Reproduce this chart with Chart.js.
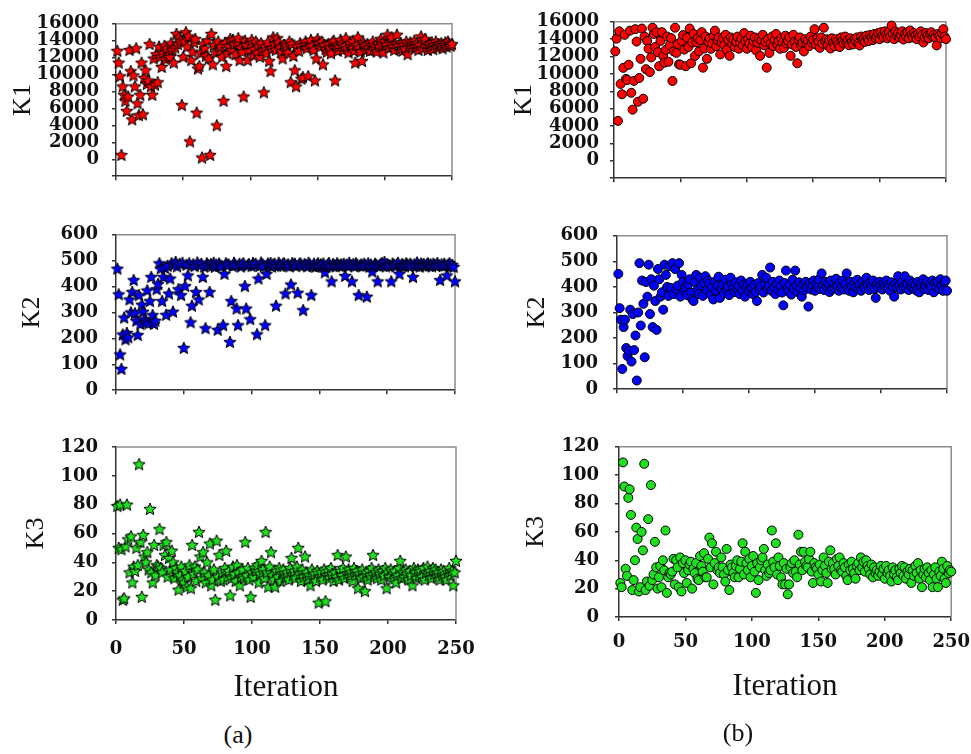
<!DOCTYPE html>
<html><head><meta charset="utf-8">
<script src="https://cdn.jsdelivr.net/npm/chart.js@4.4.1/dist/chart.umd.min.js"></script>
<style>
html,body{margin:0;padding:0;background:#fff;width:971px;height:754px;overflow:hidden;position:relative}
canvas{position:absolute}
.cap{position:absolute;font-family:"Liberation Serif",serif;font-size:26px;color:#111;width:60px;text-align:center;line-height:30px}
</style></head><body>
<canvas id="a1" width="490" height="200" style="left:0px;top:0px"></canvas>
<canvas id="a2" width="490" height="205" style="left:0px;top:210px"></canvas>
<canvas id="a3" width="490" height="300" style="left:0px;top:420px"></canvas>
<canvas id="b1" width="491" height="200" style="left:490px;top:0px"></canvas>
<canvas id="b2" width="491" height="205" style="left:490px;top:210px"></canvas>
<canvas id="b3" width="491" height="300" style="left:490px;top:420px"></canvas>
<div class="cap" style="left:208px;top:720px">(a)</div>
<div class="cap" style="left:708px;top:718px">(b)</div>
<script>
// Iteration numbers (x categories)
const iterations = Array.from({length: 250}, (_, i) => i + 1);
const xTickLabels = [0, 50, 100, 150, 200, 250];

// (a) series
const k1A = [12800,11400,9800,500,8600,7600,6900,5700,7400,12900,
10400,4700,9900,8600,13100,6600,5200,7600,11400,5300,
9600,10500,8900,9300,13600,8600,7600,11900,8800,12400,
9100,13300,12100,10900,12600,13400,11800,13100,12300,12100,
13700,12900,11400,13200,14800,13600,14400,14000,6400,12100,
13900,15000,13300,14500,2100,11700,12700,13800,14200,5500,
10700,11000,12500,200,13600,13100,12200,14000,11900,500,
14800,11200,13500,12600,4000,13900,12800,13300,12100,6900,
13700,11000,12500,13400,14200,12900,14100,13600,12400,13800,
14300,11700,13200,12700,7400,14000,13500,11700,12900,13600,
14100,12300,13000,13900,12600,13400,12100,13700,12800,7900,
13300,12500,13800,11600,10400,13100,14400,13600,12900,14300,
13800,13200,12700,11900,13500,12900,13400,12600,13900,9100,
13600,12200,10500,8600,13300,12800,13700,9500,9700,13500,
13900,13100,9800,13600,14100,13400,12900,9300,11900,14200,
13700,13300,13900,11200,13500,13000,12700,13600,13200,12500,
13800,14000,9300,13500,12800,13300,14100,13600,12900,13400,
14300,13100,12600,13700,13300,13900,12800,11400,13500,14400,
13200,12700,11600,13800,13400,12900,13600,13100,12800,13500,
13900,13000,13400,12700,13700,13300,14200,13600,12600,14000,
13500,14700,13200,13800,14400,13300,12900,13600,14700,13400,
13000,13700,12800,13500,13100,13900,12400,13400,13800,13200,
13600,14000,13300,13700,12900,13500,14500,13100,13800,14200,
13400,12900,13600,13300,13800,13000,13500,13900,13200,13600,
13400,13700,13100,13500,13800,13300,13900,13600,13400,13600];

const k2A = [469,370,138,82,215,280,196,221,204,350,
300,379,425,297,268,213,367,255,330,303,
274,262,385,258,344,437,290,256,268,390,
410,490,470,344,437,472,291,480,373,431,
490,303,485,495,478,390,488,367,492,163,
402,484,443,490,262,326,486,479,379,493,
350,482,488,437,477,239,490,484,379,487,
480,492,476,485,233,489,481,478,251,449,
490,483,486,186,344,479,492,484,315,251,
488,477,485,490,402,315,482,487,274,479,
491,484,488,216,431,480,493,486,478,251,
449,489,483,491,477,485,488,326,480,492,
484,479,487,490,373,482,486,478,408,491,
484,488,479,376,486,490,481,309,487,483,
478,492,485,367,480,488,476,484,490,479,
486,482,489,455,477,485,491,480,420,487,
483,478,490,484,479,486,481,488,441,485,
479,492,483,420,487,478,490,484,367,481,
486,479,488,483,361,490,477,485,458,480,
488,484,420,479,486,491,482,495,478,487,
483,480,420,489,484,478,486,492,449,481,
487,483,478,490,485,479,488,482,437,486,
480,493,484,477,489,483,487,479,485,490,
481,486,478,488,484,480,491,483,425,486,
479,488,482,443,485,490,478,484,476,420];

const k3A = [79,50,80,49,14,15,51,80,56,33,
58,26,37,34,50,38,108,54,16,59,
44,40,47,35,77,33,26,52,31,38,
37,63,36,33,52,45,54,30,43,35,
48,40,29,36,33,21,31,37,28,26,
34,23,30,38,22,52,32,37,27,35,
61,44,29,47,33,26,40,31,53,24,
28,35,14,55,30,45,27,33,28,36,
48,30,34,17,29,37,32,27,38,33,
24,30,35,29,54,31,36,28,16,33,
30,36,34,38,26,32,41,35,29,61,
33,23,37,47,31,28,23,34,30,36,
27,32,35,29,30,33,28,36,43,31,
34,29,37,50,32,27,35,30,44,33,
28,31,24,35,29,32,27,34,12,30,
33,28,35,13,31,34,29,36,32,27,
33,30,45,28,34,31,36,29,44,32,
35,30,33,27,36,31,34,22,32,29,
35,30,20,33,28,34,31,36,45,30,
33,29,35,32,28,34,31,36,22,33,
30,35,28,32,34,26,31,36,41,29,
33,30,35,32,28,34,31,24,36,33,
29,35,31,34,30,36,28,33,37,31,
34,29,36,32,35,30,33,28,35,31,
34,30,28,33,36,31,34,24,33,41];

// (b) series
const k1B = [12600,14060,4600,14900,8850,7660,10700,14500,9430,9300,
11060,14980,7830,5890,9200,15150,13720,6800,9530,11740,
15220,7150,14300,10550,13790,12900,10210,11910,15320,14600,
13100,14810,12500,10890,13800,14810,12080,11300,12770,14300,
11400,13300,14130,9190,12600,15320,12420,13450,11100,11060,
13800,14470,12800,10890,14200,13100,15220,11230,13600,14600,
12080,13620,14100,12600,13900,14810,10720,12930,14300,11740,
13700,14100,12900,13500,14400,14980,13200,13900,14200,12250,
13600,14100,13300,14500,12800,13900,12080,14200,13400,14000,
13100,13700,14300,12900,13600,14100,13300,14700,13800,12900,
14000,13500,14400,13100,13800,14200,12700,13600,14100,12080,
13900,14500,13300,13700,10720,14000,12420,13500,14300,13200,
13900,14600,13400,13800,12900,14100,13600,13000,14400,13500,
13800,14200,12080,13400,14500,13700,13100,11230,13900,14200,
13300,13600,12590,14000,13500,13800,13200,14300,13600,13900,
15150,13400,14100,13700,13000,14200,13500,15320,13800,14000,
13300,13900,12930,14100,13600,13200,14000,13700,13400,13100,
14200,13800,13500,14300,13600,13900,13300,14100,13700,13400,
14000,13800,14200,13500,13280,14300,13900,14100,13700,14400,
14000,13800,14500,14200,13900,14600,14100,14300,14700,14000,
14800,14400,14200,14900,14500,14100,14800,14300,15560,14600,
14000,14900,14400,14700,14200,14500,14900,13960,14600,14300,
14800,14100,15000,14500,14200,14700,14400,14000,14600,14300,
14900,14500,13620,14200,14700,14400,14100,14600,14800,14300,
14500,14200,13280,14600,14400,14100,14700,15150,14300,14000];

const k2B = [451,317,272,79,243,272,161,130,150,311,
108,294,153,210,34,300,493,249,425,334,
125,419,362,487,294,430,243,405,345,232,
470,430,362,379,311,487,447,400,365,481,
396,493,372,470,391,405,493,362,447,419,
385,398,368,410,430,378,352,345,420,447,
390,372,436,405,365,415,442,388,425,413,
370,398,351,420,385,405,440,357,395,410,
375,428,390,402,368,436,410,396,380,418,
392,405,372,425,388,410,362,398,413,384,
420,395,372,408,380,345,415,390,402,447,
378,412,436,392,405,476,385,420,398,372,
410,388,425,402,378,328,415,464,395,382,
410,370,428,392,464,405,380,418,395,362,
412,388,420,400,323,415,390,408,425,385,
412,398,430,392,453,405,388,420,398,415,
380,425,391,410,395,432,402,385,418,398,
425,390,410,453,395,385,420,402,379,415,
398,428,392,410,385,420,402,395,436,410,
388,418,400,425,392,357,412,398,420,405,
390,415,400,425,395,410,385,418,402,362,
412,398,442,405,390,420,400,442,395,410,
388,425,402,415,392,408,385,420,379,412,
398,430,392,405,420,388,410,400,425,379,
415,398,420,392,430,405,385,418,425,385];

const k3B = [24,21,109,92,34,29,84,90,72,19,
26,40,63,55,18,21,60,47,108,19,
25,69,22,93,26,30,53,35,20,28,
36,21,40,33,61,17,28,31,30,32,
41,23,40,35,21,42,18,38,31,40,
24,33,37,39,20,34,31,38,27,26,
43,36,32,45,28,28,41,56,35,52,
23,38,46,33,35,31,42,35,30,25,
48,33,19,37,35,31,28,36,40,28,
34,39,52,30,46,38,33,41,28,36,
43,32,17,38,26,35,40,42,48,33,
29,37,31,33,61,39,35,52,30,42,
36,28,23,38,23,34,16,23,35,38,
31,40,32,28,58,37,46,33,46,39,
36,35,41,46,32,24,38,35,34,30,
37,25,33,42,36,31,24,39,47,34,
38,34,30,41,36,42,33,32,38,35,
29,26,37,33,39,34,31,27,36,38,
33,42,35,39,32,40,36,34,30,37,
28,35,31,33,29,32,36,30,34,27,
36,31,33,29,25,35,30,33,28,26,
34,31,36,29,35,27,32,30,34,24,
33,29,36,31,38,27,33,21,30,34,
28,35,31,26,33,21,30,35,27,21,
32,29,39,34,27,24,36,31,33,32];

const yTitles = ['K1', 'K2', 'K3'];
const xTitle = 'Iteration';

function makeStar(fill) {
  const c = document.createElement('canvas');
  c.width = 14; c.height = 14;
  const g = c.getContext('2d');
  const cx = 7, cy = 7.4, R = 6.4, r = 2.9;
  g.beginPath();
  for (let i = 0; i < 10; i++) {
    const a = -Math.PI / 2 + i * Math.PI / 5;
    const rad = i % 2 ? r : R;
    g.lineTo(cx + rad * Math.cos(a), cy + rad * Math.sin(a));
  }
  g.closePath();
  g.fillStyle = fill; g.fill();
  g.lineWidth = 1; g.strokeStyle = '#000'; g.stroke();
  return c;
}

const frame = {
  id: 'frame',
  beforeDatasetsDraw(ch) {
    const {ctx, chartArea: a} = ch;
    ctx.save();
    ctx.strokeStyle = '#8c8c8c'; ctx.lineWidth = 1.5;
    ctx.beginPath();
    ctx.moveTo(a.left, a.top); ctx.lineTo(a.right, a.top); ctx.lineTo(a.right, a.bottom);
    ctx.stroke();
    ctx.restore();
  }
};

const tickFont = {family: 'DejaVu Serif', size: 18, weight: 'bold'};

function panel(id, vals, o) {
  new Chart(document.getElementById(id), {
    type: 'scatter',
    data: {datasets: [{
      data: iterations.map((x, i) => ({x: x, y: vals[i]})),
      pointStyle: o.style, pointRadius: o.r, backgroundColor: o.color,
      borderColor: '#000', borderWidth: o.bw, clip: false
    }]},
    options: {
      responsive: false, animation: false, devicePixelRatio: 1, events: [],
      layout: {padding: {left: 0, top: o.top, right: o.right, bottom: 0}},
      plugins: {legend: {display: false}, tooltip: {enabled: false}},
      scales: {
        x: {
          type: 'linear', min: 0, max: 250,
          afterBuildTicks: s => { s.ticks = xTickLabels.map(v => ({value: v})); },
          ticks: {display: o.xTicks, autoSkip: false, font: tickFont, color: '#111', padding: o.xPad, maxRotation: 0, callback: v => String(v)},
          grid: {drawOnChartArea: false, drawTicks: true, tickLength: 4, color: '#333', lineWidth: 1.5},
          border: {color: '#333', width: 1.5},
          title: {display: o.xTicks, text: xTitle, font: {family: 'Liberation Serif', size: 31}, color: '#111', padding: {top: 0, bottom: o.xTitlePad}},
          afterFit: s => { s.height = o.xH; }
        },
        y: {
          min: o.min, max: o.max,
          ticks: {stepSize: o.step, autoSkip: false, font: tickFont, color: '#111', padding: o.yPad, callback: v => v < 0 ? '' : String(v)},
          grid: {drawOnChartArea: false, drawTicks: true, tickLength: 4, color: '#333', lineWidth: 1.5},
          border: {color: '#333', width: 1.5},
          title: {display: true, text: o.title, font: {family: 'Liberation Serif', size: 26}, color: '#111', padding: {top: o.yTitlePad, bottom: 0}},
          afterFit: s => { s.width = o.yW; }
        }
      }
    },
    plugins: [frame]
  });
}

const redStar = makeStar('#ff0000'), blueStar = makeStar('#0000ff'), greenStar = makeStar('#1ee01e');

panel('a1', k1A, {style: redStar, r: 6, color: '#ff0000', bw: 1, top: 18, right: 38, yW: 116, xH: 8, xTicks: false, min: -2000, max: 16000, step: 2000, yPad: 13, title: yTitles[0], yTitlePad: 7.4});
panel('a2', k2A, {style: blueStar, r: 6, color: '#0000ff', bw: 1, top: 23, right: 35, yW: 116, xH: 7, xTicks: false, min: 0, max: 600, step: 100, yPad: 14, title: yTitles[1], yTitlePad: 16.4});
panel('a3', k3A, {style: greenStar, r: 6, color: '#1ee01e', bw: 1, top: 27, right: 34, yW: 116, xH: 100, xTicks: true, xPad: 15, xTitlePad: 13.4, min: 0, max: 120, step: 20, yPad: 14, title: yTitles[2], yTitlePad: 20.4});
panel('b1', k1B, {style: 'circle', r: 4.5, color: '#ff0000', bw: 1, top: 14, right: 35, yW: 124, xH: 9, xTicks: false, min: -2000, max: 16000, step: 2000, yPad: 11, title: yTitles[0], yTitlePad: 18.4});
panel('b2', k2B, {style: 'circle', r: 4.5, color: '#0000ff', bw: 1, top: 14, right: 34, yW: 127, xH: 13, xTicks: false, min: 0, max: 600, step: 100, yPad: 15, title: yTitles[1], yTitlePad: 31.4});
panel('b3', k3B, {style: 'circle', r: 4.5, color: '#1ee01e', bw: 1, top: 22, right: 29, yW: 129, xH: 103, xTicks: true, xPad: 11, xTitlePad: 14.4, min: 0, max: 120, step: 20, yPad: 16, title: yTitles[2], yTitlePad: 30.4});
</script>
</body></html>
